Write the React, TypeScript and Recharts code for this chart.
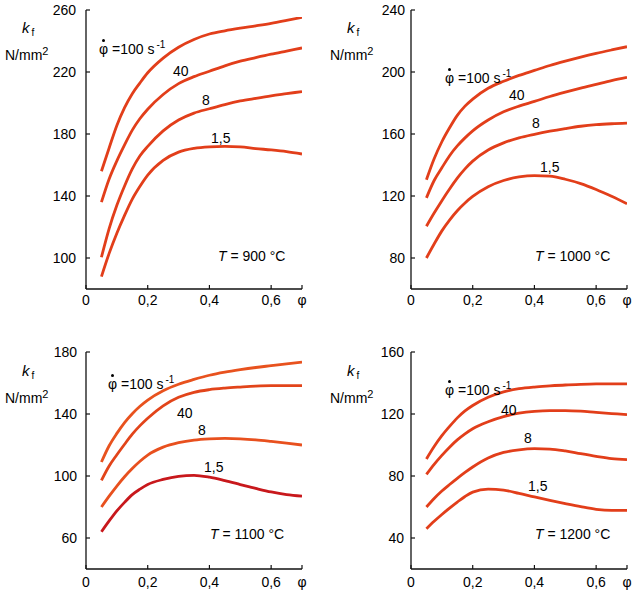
import React from 'react';
import { LineChart, Line, XAxis, YAxis } from 'recharts';

// strain φ (x values)
const phi = [0.05, 0.075, 0.1, 0.125, 0.15, 0.175, 0.2, 0.25, 0.3, 0.35, 0.4, 0.45, 0.5, 0.55, 0.6, 0.65, 0.7];

// T = 900 °C
const t900_r100 = [156, 171, 185.5, 197, 206, 213, 219.5, 229, 236, 241, 244.5, 246.6, 248.3, 249.8, 251.4, 253.3, 255.3];
const t900_r40 = [136, 151, 162.7, 173, 182.5, 190, 196, 205.5, 212.5, 217, 220.5, 224, 227, 229.3, 231.5, 233.5, 235.5];
const t900_r8 = [100.5, 119, 134, 146.5, 157.5, 166, 172, 182, 189, 193.5, 196.3, 199, 201.3, 203, 204.6, 206, 207.4];
const t900_r1_5 = [88, 103, 116, 127.5, 138, 146.3, 153.5, 163, 168.3, 170.7, 171.7, 172, 171.7, 170.6, 169.7, 168.6, 167.1];

// T = 1000 °C
const t1000_r100 = [130.5, 144, 155, 164, 172, 178, 182.5, 189.5, 194, 197.8, 201, 204.2, 207, 209.6, 212, 214.2, 216.3];
const t1000_r40 = [118.8, 130, 138.2, 146, 152.3, 157.5, 162, 169, 174.3, 178, 181, 184.2, 187, 189.6, 192, 194.4, 196.5];
const t1000_r8 = [100.5, 109, 117, 124.5, 131.5, 137.5, 142.5, 149.7, 154.3, 157.5, 159.8, 161.8, 163.5, 165, 166, 166.6, 167];
const t1000_r1_5 = [80, 89, 97.5, 104.5, 110.5, 115.5, 119.7, 126, 130, 132.3, 133.2, 132.8, 130.8, 128, 124.2, 119.8, 115];

// T = 1100 °C
const t1100_r100 = [109, 119.5, 127.5, 134.5, 140.2, 145, 149, 155, 159.2, 162.3, 165, 167, 168.6, 170, 171.2, 172.4, 173.5];
const t1100_r40 = [97.2, 106.5, 113.7, 120.5, 127, 132.5, 137.3, 145.3, 150.8, 154, 155.7, 156.7, 157.4, 158, 158.3, 158.3, 158.3];
const t1100_r8 = [80, 87, 93.5, 99.5, 104.8, 109.5, 113.5, 118.6, 121.5, 123.2, 124, 124.3, 124, 123.3, 122.3, 121.2, 120];
const t1100_r1_5 = [64, 71, 77.5, 83, 88, 91.5, 94.5, 97.8, 99.8, 100.4, 99.2, 97, 94.5, 92, 89.7, 88, 87];

// T = 1200 °C
const t1200_r100 = [91, 99, 106, 112, 117.5, 122, 125.5, 130.8, 134.3, 136.3, 137.4, 138.1, 138.7, 139.1, 139.4, 139.5, 139.5];
const t1200_r40 = [81, 87.5, 93.3, 98.6, 103.3, 107.2, 110.5, 115, 118.3, 120.5, 121.7, 122.2, 122.2, 121.8, 121, 120.3, 119.6];
const t1200_r8 = [60, 65.5, 70.3, 74.5, 78.5, 82.3, 85.8, 91.6, 95.2, 96.9, 97.6, 97.4, 96.2, 94.4, 92.7, 91.2, 90.5];
const t1200_r1_5 = [46, 50.8, 55.2, 59.3, 63.2, 66.8, 69.6, 71.5, 70.9, 68.8, 66.5, 64.3, 62.2, 60.2, 58.5, 57.8, 57.8];

const xTicks = [0, 0.2, 0.4, 0.6, 0.7];
const yTicks900 = [100, 140, 180, 220, 260];
const yTicks1000 = [80, 120, 160, 200, 240];
const yTicks1100 = [60, 100, 140, 180];
const yTicks1200 = [40, 80, 120, 160];

const rateLabels = ['100', '40', '8', '1,5'];

const FONT = '"Liberation Sans", Arial, Helvetica, sans-serif';

function buildRows(series: number[][]) {
  return phi.map((p, i) => ({ phi: p, r100: series[0][i], r40: series[1][i], r8: series[2][i], r1_5: series[3][i] }));
}

const fmtX = (v: number) => (v === 0.7 ? 'φ' : String(v).replace('.', ','));

type PanelProps = {
  left: number;
  top: number;
  width: number;
  height: number;
  margin: { top: number; right: number; bottom: number; left: number };
  yDomain: [number, number];
  yTicks: number[];
  rows: any[];
  colors: string[];
  yGap: number;
  xGap: number;
};

function Panel(p: PanelProps) {
  const tickStyle = { fill: '#000', fontSize: 14, fontFamily: FONT };
  const sw = 2.8;
  return (
    <div style={{ position: 'absolute', left: p.left, top: p.top }}>
      <LineChart width={p.width} height={p.height} data={p.rows} margin={p.margin}>
        <XAxis
          dataKey="phi"
          type="number"
          domain={[0, 0.7]}
          ticks={xTicks}
          tickFormatter={fmtX}
          height={20}
          tickSize={-4}
          tickMargin={p.xGap + 4}
          tick={tickStyle}
          axisLine={{ stroke: '#111', strokeWidth: 1.3 }}
          tickLine={{ stroke: '#111', strokeWidth: 1.2 }}
          interval={0}
          allowDataOverflow
        />
        <XAxis xAxisId="top" orientation="top" type="number" domain={[0, 0.7]} height={0} tick={false} tickLine={false} axisLine={{ stroke: '#111', strokeWidth: 1.3 }} />
        <YAxis
          type="number"
          domain={p.yDomain}
          ticks={p.yTicks}
          width={40}
          tickSize={-4}
          tickMargin={p.yGap + 4}
          tick={tickStyle}
          axisLine={{ stroke: '#111', strokeWidth: 1.3 }}
          tickLine={{ stroke: '#111', strokeWidth: 1.2 }}
          interval={0}
          allowDataOverflow
        />
        <YAxis yAxisId="right" orientation="right" type="number" domain={[0, 1]} width={0} tick={false} tickLine={false} axisLine={{ stroke: '#111', strokeWidth: 1.3 }} />
        <Line dataKey="r100" type="monotone" stroke={p.colors[0]} strokeWidth={sw} dot={false} isAnimationActive={false} />
        <Line dataKey="r40" type="monotone" stroke={p.colors[1]} strokeWidth={sw} dot={false} isAnimationActive={false} />
        <Line dataKey="r8" type="monotone" stroke={p.colors[2]} strokeWidth={sw} dot={false} isAnimationActive={false} />
        <Line dataKey="r1_5" type="monotone" stroke={p.colors[3]} strokeWidth={sw} dot={false} isAnimationActive={false} />
      </LineChart>
    </div>
  );
}

function Txt({ x, y, children }: { x: number; y: number; children: React.ReactNode }) {
  return (
    <div
      style={{
        position: 'absolute',
        left: x,
        top: y,
        transform: 'translateY(-50%)',
        fontFamily: FONT,
        fontSize: 14,
        lineHeight: 1,
        color: '#000',
        whiteSpace: 'nowrap',
      }}
    >
      {children}
    </div>
  );
}

function PhiDot() {
  return (
    <span style={{ position: 'relative', display: 'inline-block' }}>
      φ
      <span
        style={{
          position: 'absolute',
          left: '50%',
          top: -3,
          width: 2.5,
          height: 2.5,
          marginLeft: -1.25,
          borderRadius: 2,
          background: '#000',
        }}
      />
    </span>
  );
}

function RateLabel({ x, y }: { x: number; y: number }) {
  return (
    <Txt x={x} y={y}>
      <PhiDot />
      {' =' + rateLabels[0] + ' s'}
      <span style={{ fontSize: 10, position: 'relative', top: -6, marginLeft: 2 }}>-1</span>
    </Txt>
  );
}

function UnitLabel({ x, y }: { x: number; y: number }) {
  return (
    <>
      <Txt x={x + 17} y={y - 28}>
        <i style={{ fontSize: 15 }}>k</i>
        <span style={{ fontSize: 10, position: 'relative', top: 3, marginLeft: 2 }}>f</span>
      </Txt>
      <Txt x={x} y={y}>
        N/mm<span style={{ fontSize: 11, position: 'relative', top: -5 }}>2</span>
      </Txt>
    </>
  );
}

function TempLabel({ x, y, t }: { x: number; y: number; t: string }) {
  return (
    <Txt x={x} y={y}>
      <i>T</i>
      {' = ' + t + ' °C'}
    </Txt>
  );
}

const rows900 = buildRows([t900_r100, t900_r40, t900_r8, t900_r1_5]);
const rows1000 = buildRows([t1000_r100, t1000_r40, t1000_r8, t1000_r1_5]);
const rows1100 = buildRows([t1100_r100, t1100_r40, t1100_r8, t1100_r1_5]);
const rows1200 = buildRows([t1200_r100, t1200_r40, t1200_r8, t1200_r1_5]);

const redStd = ['#e23e1a', '#e23e1a', '#e23e1a', '#e23e1a'];
const red1100 = ['#e8521e', '#e2441a', '#e8501e', '#c8181c'];

export default function App() {
  return (
    <div style={{ position: 'absolute', left: 0, top: 0, width: 634, height: 599, background: '#fff', overflow: 'hidden' }}>
      <Panel left={0} top={0} width={317} height={310} margin={{ top: 10, right: 15, bottom: 1, left: 46 }} yDomain={[80, 260]} yTicks={yTicks900} rows={rows900} colors={redStd} yGap={10} xGap={6} />
      <Panel left={317} top={0} width={317} height={310} margin={{ top: 10, right: 7, bottom: 1, left: 54 }} yDomain={[60, 240]} yTicks={yTicks1000} rows={rows1000} colors={redStd} yGap={6} xGap={6} />
      <Panel left={0} top={300} width={317} height={299} margin={{ top: 52, right: 15, bottom: 10, left: 46 }} yDomain={[40, 180]} yTicks={yTicks1100} rows={rows1100} colors={red1100} yGap={9} xGap={8} />
      <Panel left={317} top={300} width={317} height={299} margin={{ top: 52, right: 7, bottom: 10, left: 54 }} yDomain={[20, 160]} yTicks={yTicks1200} rows={rows1200} colors={redStd} yGap={7} xGap={8} />

      {/* 900 °C */}
      <UnitLabel x={5} y={55} />
      <RateLabel x={99} y={49} />
      <Txt x={173} y={71}>{rateLabels[1]}</Txt>
      <Txt x={202} y={100}>{rateLabels[2]}</Txt>
      <Txt x={211} y={138}>{rateLabels[3]}</Txt>
      <TempLabel x={218} y={256} t="900" />

      {/* 1000 °C */}
      <UnitLabel x={330} y={55} />
      <RateLabel x={445} y={78} />
      <Txt x={509} y={95}>{rateLabels[1]}</Txt>
      <Txt x={532} y={123}>{rateLabels[2]}</Txt>
      <Txt x={540} y={167}>{rateLabels[3]}</Txt>
      <TempLabel x={535} y={256} t="1000" />

      {/* 1100 °C */}
      <UnitLabel x={5} y={398} />
      <RateLabel x={108} y={384} />
      <Txt x={177} y={413}>{rateLabels[1]}</Txt>
      <Txt x={198} y={430}>{rateLabels[2]}</Txt>
      <Txt x={204} y={467}>{rateLabels[3]}</Txt>
      <TempLabel x={210} y={534} t="1100" />

      {/* 1200 °C */}
      <UnitLabel x={330} y={398} />
      <RateLabel x={445} y={390} />
      <Txt x={501} y={410}>{rateLabels[1]}</Txt>
      <Txt x={524} y={438}>{rateLabels[2]}</Txt>
      <Txt x={528} y={486}>{rateLabels[3]}</Txt>
      <TempLabel x={535} y={534} t="1200" />
    </div>
  );
}
